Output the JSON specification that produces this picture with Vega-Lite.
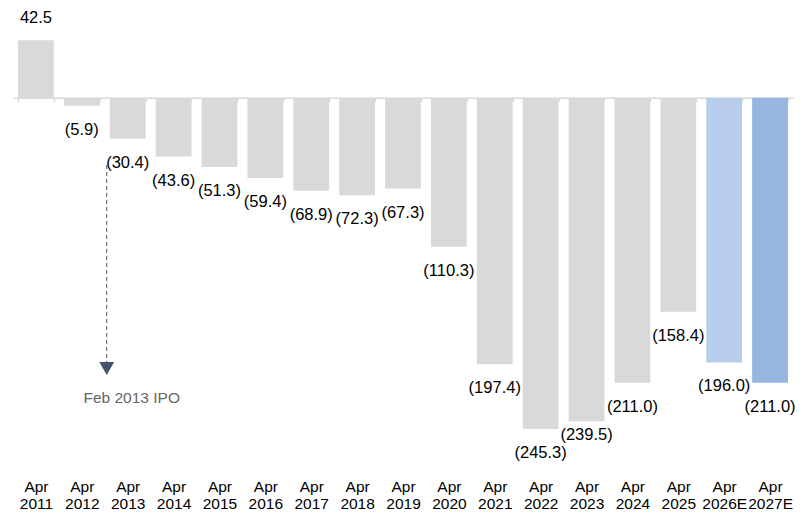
{
  "$schema": "https://vega.github.io/schema/vega-lite/v6.json",
  "width": 780,
  "height": 435,
  "autosize": {"type": "none"},
  "padding": {"left": 13, "top": 10, "right": 10, "bottom": 71},
  "background": "white",
  "config": {"view": {"stroke": null}},
  "datasets": {
    "bars": [
      {"period": "Apr 2011", "value": 42.5, "kind": "Actual"},
      {"period": "Apr 2012", "value": -5.9, "kind": "Actual"},
      {"period": "Apr 2013", "value": -30.4, "kind": "Actual"},
      {"period": "Apr 2014", "value": -43.6, "kind": "Actual"},
      {"period": "Apr 2015", "value": -51.3, "kind": "Actual"},
      {"period": "Apr 2016", "value": -59.4, "kind": "Actual"},
      {"period": "Apr 2017", "value": -68.9, "kind": "Actual"},
      {"period": "Apr 2018", "value": -72.3, "kind": "Actual"},
      {"period": "Apr 2019", "value": -67.3, "kind": "Actual"},
      {"period": "Apr 2020", "value": -110.3, "kind": "Actual"},
      {"period": "Apr 2021", "value": -197.4, "kind": "Actual"},
      {"period": "Apr 2022", "value": -245.3, "kind": "Actual"},
      {"period": "Apr 2023", "value": -239.5, "kind": "Actual"},
      {"period": "Apr 2024", "value": -211.0, "kind": "Actual"},
      {"period": "Apr 2025", "value": -158.4, "kind": "Actual"},
      {"period": "Apr 2026E", "value": -196.0, "kind": "Estimate 2026"},
      {"period": "Apr 2027E", "value": -211.0, "kind": "Estimate 2027"}
    ],
    "note": [
      {"period": "Apr 2013", "start": -49.8, "end": -196.0, "tip": -200.5, "textY": -222.3, "label": "Feb 2013 IPO"}
    ]
  },
  "layer": [
    {
      "data": {"name": "bars"},
      "mark": {"type": "bar"},
      "encoding": {
        "x": {
          "field": "period", "type": "nominal", "sort": null,
          "scale": {"paddingInner": 0.22, "paddingOuter": 0.11},
          "axis": {
            "orient": "bottom", "offset": -347.3, "title": null, "labelAngle": 0,
            "labelExpr": "split(datum.label, ' ')",
            "labelFont": "Liberation Sans", "labelFontSize": 15.5, "labelColor": "#000000",
            "labelLineHeight": 16.5, "labelPadding": 378,
            "domainColor": "#d9d9d9", "domainWidth": 1.5,
            "tickColor": "#d9d9d9", "tickWidth": 1.5, "tickSize": 4, "tickBand": "extent",
            "grid": false
          }
        },
        "y": {
          "field": "value", "type": "quantitative",
          "scale": {"domain": [-257.1, 64.9], "nice": false, "zero": true},
          "axis": null
        },
        "color": {
          "field": "kind", "type": "nominal", "legend": null,
          "scale": {"domain": ["Actual", "Estimate 2026", "Estimate 2027"], "range": ["#d9d9d9", "#b7cdeb", "#96b5e1"]}
        }
      }
    },
    {
      "data": {"name": "bars"},
      "transform": [{"filter": "datum.value >= 0"}],
      "mark": {"type": "text", "baseline": "middle", "dy": -22, "font": "Liberation Sans", "fontSize": 16.5, "color": "#000000"},
      "encoding": {
        "x": {"field": "period", "type": "nominal", "sort": null},
        "y": {"field": "value", "type": "quantitative"},
        "text": {"field": "value", "type": "quantitative", "format": "(.1f"}
      }
    },
    {
      "data": {"name": "bars"},
      "transform": [{"filter": "datum.value < 0 && datum.period != 'Apr 2023'"}],
      "mark": {"type": "text", "baseline": "middle", "dy": 24, "font": "Liberation Sans", "fontSize": 16.5, "color": "#000000"},
      "encoding": {
        "x": {"field": "period", "type": "nominal", "sort": null},
        "y": {"field": "value", "type": "quantitative"},
        "text": {"field": "value", "type": "quantitative", "format": "(.1f"}
      }
    },
    {
      "data": {"name": "bars"},
      "transform": [{"filter": "datum.period == 'Apr 2023'"}],
      "mark": {"type": "text", "baseline": "middle", "dy": 14, "font": "Liberation Sans", "fontSize": 16.5, "color": "#000000"},
      "encoding": {
        "x": {"field": "period", "type": "nominal", "sort": null},
        "y": {"field": "value", "type": "quantitative"},
        "text": {"field": "value", "type": "quantitative", "format": "(.1f"}
      }
    },
    {
      "data": {"name": "note"},
      "mark": {"type": "rule", "color": "#44546a", "strokeWidth": 1, "strokeDash": [4, 3], "xOffset": -21},
      "encoding": {
        "x": {"field": "period", "type": "nominal", "sort": null},
        "y": {"field": "start", "type": "quantitative"},
        "y2": {"field": "end"}
      }
    },
    {
      "data": {"name": "note"},
      "mark": {"type": "point", "shape": "triangle-down", "filled": true, "color": "#44546a", "opacity": 1, "size": 220, "xOffset": -21},
      "encoding": {
        "x": {"field": "period", "type": "nominal", "sort": null},
        "y": {"field": "tip", "type": "quantitative"}
      }
    },
    {
      "data": {"name": "note"},
      "mark": {"type": "text", "baseline": "middle", "align": "center", "dx": 4, "font": "Liberation Sans", "fontSize": 15.5, "color": "#666666"},
      "encoding": {
        "x": {"field": "period", "type": "nominal", "sort": null},
        "y": {"field": "textY", "type": "quantitative"},
        "text": {"field": "label"}
      }
    }
  ]
}
